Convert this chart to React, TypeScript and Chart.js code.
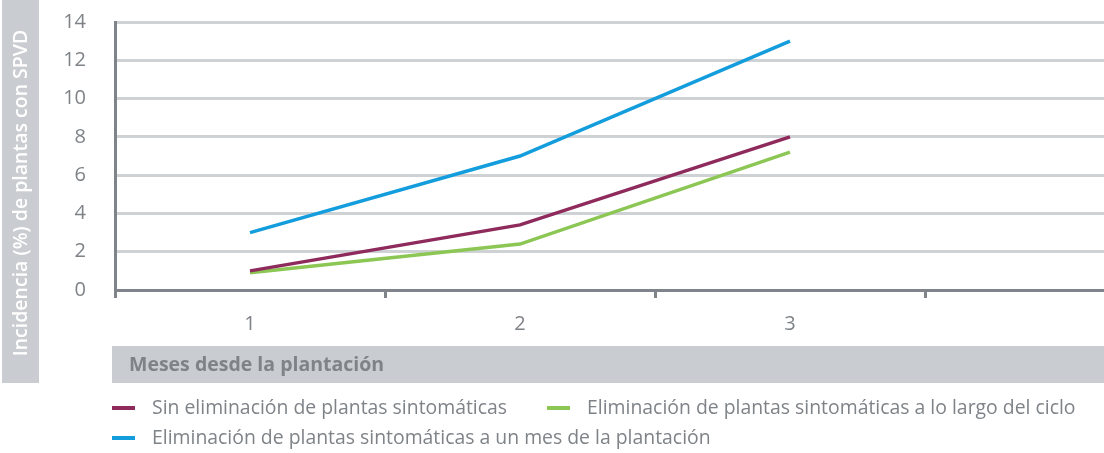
import React, { useEffect, useRef } from "react";
import { Chart, registerables } from "chart.js";

Chart.register(...registerables);

const categories = ["1", "2", "3", ""];
const sinEliminacion = [1.0, 3.4, 8.0, null];
const eliminacionCiclo = [0.9, 2.4, 7.2, null];
const eliminacionUnMes = [3.0, 7.0, 13.0, null];

const seriesLabels = [
  "Sin eliminación de plantas sintomáticas",
  "Eliminación de plantas sintomáticas a lo largo del ciclo",
  "Eliminación de plantas sintomáticas a un mes de la plantación",
];
const seriesColors = ["#8e2b5c", "#8cc654", "#139ddc"];
const yTitle = "Incidencia (%) de plantas con SPVD";
const xTitle = "Meses desde la plantación";

const FONT = "'Open Sans', 'Noto Sans', sans-serif";
const GRAY_TEXT = "#7f8388";
const AXIS = "#7f848a";
const GRID = "#cfd2d5";
const BAND = "#c9ccd0";

const decorPlugin = {
  id: "decor",
  beforeDraw(chart: any) {
    const ctx = chart.ctx;
    ctx.save();
    ctx.fillStyle = BAND;
    ctx.fillRect(2, 0, 37, 383);
    ctx.fillRect(112, 346, 1200, 37);
    ctx.restore();
  },
  afterDraw(chart: any) {
    const ctx = chart.ctx;
    ctx.save();
    // y title
    ctx.translate(21, 193);
    ctx.rotate(-Math.PI / 2);
    ctx.fillStyle = "#ffffff";
    ctx.font = `600 19.5px ${FONT}`;
    ctx.textAlign = "center";
    ctx.textBaseline = "middle";
    ctx.fillText(yTitle, 0, 0);
    ctx.restore();

    ctx.save();
    ctx.fillStyle = GRAY_TEXT;
    ctx.font = `bold 19.5px ${FONT}`;
    ctx.textAlign = "left";
    ctx.textBaseline = "middle";
    ctx.fillText(xTitle, 129, 365);

    // legend
    ctx.font = `19.4px ${FONT}`;
    let x = 112;
    let y = 408;
    const maxX = 1104;
    seriesLabels.forEach((lab, i) => {
      const w = 40 + ctx.measureText(lab).width;
      if (x + w > maxX) {
        x = 112;
        y += 30;
      }
      ctx.fillStyle = seriesColors[i];
      ctx.fillRect(x, y - 2, 23, 4);
      ctx.fillStyle = GRAY_TEXT;
      ctx.fillText(lab, x + 40, y);
      x += w + 40;
    });
    ctx.restore();
  },
};

export default function App() {
  const ref = useRef<HTMLCanvasElement | null>(null);
  useEffect(() => {
    document.body.style.margin = "0";
    const c = ref.current;
    if (!c) return;
    const mk = (data: (number | null)[], i: number) => ({
      label: seriesLabels[i],
      data,
      borderColor: seriesColors[i],
      backgroundColor: seriesColors[i],
      borderWidth: 3.5,
      pointRadius: 0,
      tension: 0,
      fill: false,
    });
    const chart = new Chart(c, {
      type: "line",
      data: {
        labels: categories,
        datasets: [
          mk(sinEliminacion, 0),
          mk(eliminacionCiclo, 1),
          mk(eliminacionUnMes, 2),
        ],
      },
      options: {
        animation: false,
        responsive: false,
        devicePixelRatio: 1,
        layout: { autoPadding: false, padding: { top: 22, right: 5, left: 0, bottom: 0 } },
        plugins: { legend: { display: false }, tooltip: { enabled: false } },
        scales: {
          x: {
            type: "category",
            offset: true,
            grid: {
              offset: true,
              drawOnChartArea: false,
              drawTicks: true,
              tickLength: 8,
              color: AXIS,
              lineWidth: 3,
            },
            border: { display: true, color: AXIS, width: 3 },
            ticks: { color: GRAY_TEXT, font: { family: FONT, size: 20 }, padding: 14 },
            afterFit: (s: any) => {
              s.height = 163;
              s.paddingLeft = 0;
              s.paddingRight = 0;
            },
          },
          y: {
            min: 0,
            max: 14,
            ticks: { stepSize: 2, color: GRAY_TEXT, font: { family: FONT, size: 20 }, padding: 29 },
            grid: { color: GRID, lineWidth: 3, drawTicks: false },
            border: { display: true, color: AXIS, width: 3 },
            afterFit: (s: any) => {
              s.width = 115;
              s.paddingTop = 0;
              s.paddingBottom = 0;
            },
          },
        },
      },
      plugins: [decorPlugin],
    });
    return () => chart.destroy();
  }, []);
  return (
    <div style={{ width: 1104, height: 453, overflow: "hidden", position: "relative" }}>
      <canvas ref={ref} width={1200} height={453} style={{ width: 1200, height: 453, display: "block" }} />
    </div>
  );
}
